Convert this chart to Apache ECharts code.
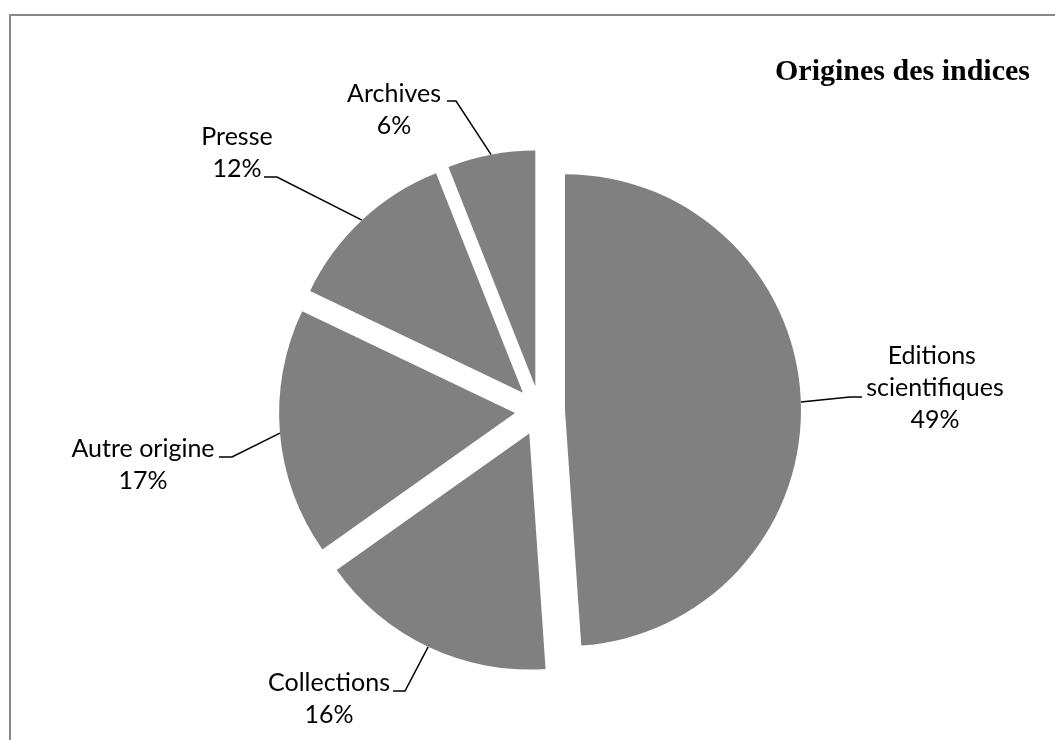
<!DOCTYPE html>
<html><head><meta charset="utf-8">
<script src="https://cdn.jsdelivr.net/npm/echarts@6/dist/echarts.min.js"></script>
<style>
html,body{margin:0;padding:0;overflow:hidden;background:#fff;width:1055px;height:740px}
#chart{position:absolute;left:0;top:0;width:1055px;height:740px}
#frame{position:absolute;left:9px;top:14px;width:1200px;height:900px;border:2px solid #888;pointer-events:none}
</style></head><body>
<div id="frame"></div>
<div id="chart"></div>
<script>
// ---- data ----
const categories = ['Editions scientifiques', 'Collections', 'Autre origine', 'Presse', 'Archives'];
const values = [48.9, 16.3, 16.9, 11.9, 6.0];
const titleText = 'Origines des indices';

// ---- layout ----
const CX = 540, CY = 411, R = 236, EXPLODE = 25;
// label block centre, leader bend and end points
const labelLayouts = [
  { x: 935, y: 388, bend: [850, 397], end: [862, 397] },
  { x: 329, y: 699, bend: [405, 691], end: [393, 691] },
  { x: 143, y: 465, bend: [232, 457], end: [219, 457] },
  { x: 237, y: 153, bend: [277, 177], end: [264, 177] },
  { x: 394, y: 110, bend: [456, 101], end: [447, 101] }
];

const total = values.reduce((a, b) => a + b, 0);
const series = [];
let cum = 0;
values.forEach((v, i) => {
  const mid = (cum + v / 2) / total * 2 * Math.PI;
  cum += v;
  const cx = CX + EXPLODE * Math.sin(mid);
  const cy = CY - EXPLODE * Math.cos(mid);
  series.push({
    type: 'pie',
    center: [cx, cy],
    radius: R,
    startAngle: 90,
    clockwise: true,
    silent: true,
    animation: false,
    percentPrecision: 0,
    avoidLabelOverlap: false,
    emphasis: { disabled: true },
    data: categories.map((name, j) => ({
      name: name,
      value: values[j],
      itemStyle: { color: j === i ? '#808080' : 'rgba(0,0,0,0)', borderWidth: 0 },
      label: { show: j === i },
      labelLine: { show: j === i }
    })),
    label: {
      position: 'outside',
      fontFamily: 'Lato',
      fontSize: 25,
      lineHeight: 32,
      color: '#000',
      width: 160,
      overflow: 'break',
      align: 'center',
      formatter: p => p.name + '\n' + p.percent + '%'
    },
    labelLine: { show: true, lineStyle: { color: '#000', width: 1.5 } },
    labelLayout: function (params) {
      const L = labelLayouts[params.dataIndex];
      const res = { x: L.x, y: L.y, align: 'center', verticalAlign: 'middle' };
      if (params.labelLinePoints) {
        res.labelLinePoints = [params.labelLinePoints[0], L.bend, L.end];
      }
      return res;
    }
  });
});

const chart = echarts.init(document.getElementById('chart'), null, { renderer: 'canvas' });
chart.setOption({
  backgroundColor: 'transparent',
  animation: false,
  title: {
    text: titleText,
    right: 20,
    top: 52,
    textStyle: { fontFamily: 'Liberation Serif', fontWeight: 'bold', fontSize: 30, color: '#000' }
  },
  series: series
});
</script>
</body></html>
